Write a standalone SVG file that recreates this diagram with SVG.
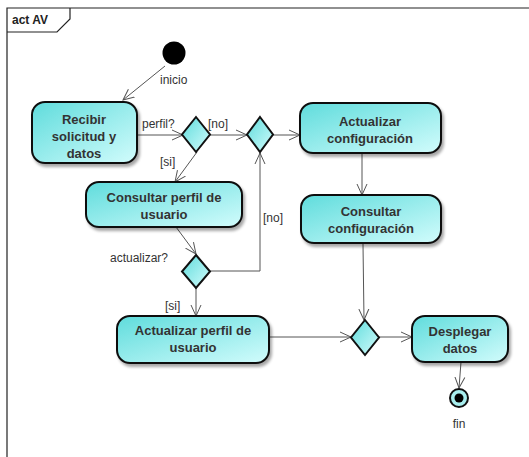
<svg xmlns="http://www.w3.org/2000/svg" width="529" height="457" viewBox="0 0 529 457">
  <defs>
    <linearGradient id="fillAct" x1="0" y1="0" x2="1" y2="1">
      <stop offset="0" stop-color="#5fdcdc"/>
      <stop offset="1" stop-color="#d2fcfc"/>
    </linearGradient>
    <filter id="shadow" x="-10%" y="-10%" width="130%" height="140%">
      <feGaussianBlur in="SourceAlpha" stdDeviation="1.5"/>
      <feOffset dx="2" dy="3" result="b"/>
      <feComponentTransfer><feFuncA type="linear" slope="0.35"/></feComponentTransfer>
      <feMerge><feMergeNode/><feMergeNode in="SourceGraphic"/></feMerge>
    </filter>
    <marker id="open" markerWidth="12" markerHeight="12" refX="11" refY="6" orient="auto" markerUnits="userSpaceOnUse">
      <path d="M0,1 L11,6 L0,11" fill="none" stroke="#555" stroke-width="1"/>
    </marker>
  </defs>
  <style>
    .frame { fill: none; stroke: #222; stroke-width: 1.2; }
    .act { fill: url(#fillAct); stroke: #111; stroke-width: 2; filter: url(#shadow); }
    .dec { fill: url(#fillAct); stroke: #111; stroke-width: 2; }
    .name { font-family: "Liberation Sans", Arial, sans-serif; font-size: 13px; font-weight: bold; fill: #333; text-anchor: middle; }
    .lbl { font-family: "Liberation Sans", Arial, sans-serif; font-size: 12px; fill: #333; }
    .edge { fill: none; stroke: #555; stroke-width: 1; marker-end: url(#open); }
    .title { font-family: "Liberation Sans", Arial, sans-serif; font-size: 12px; font-weight: bold; fill: #222; }
  </style>

  <rect x="0" y="0" width="529" height="457" fill="#fff"/>

  <!-- diagram frame with name tab -->
  <g id="frame">
    <path class="frame" d="M7,457 L7,8 L529,8"/>
    <path class="frame" d="M7,32 L57,32 L70,19 L70,8"/>
    <text class="title" x="12" y="24">act AV</text>
  </g>

  <!-- connectors -->
  <g id="connectors">
    <path class="edge" d="M165,66 L123,100"/>
    <path class="edge" d="M137,135 L183,135"/>
    <path class="edge" d="M210,135 L247,135"/>
    <path class="edge" d="M273,135 L300,135"/>
    <path class="edge" d="M197,152 L175,182"/>
    <path class="edge" d="M176,227 L196,254"/>
    <path class="edge" d="M210,271 L260,271 L260,153"/>
    <path class="edge" d="M196,288 L196,316"/>
    <path class="edge" d="M362,154 L362,195"/>
    <path class="edge" d="M363,244 L364,320"/>
    <path class="edge" d="M269,337 L351,337"/>
    <path class="edge" d="M379,337 L412,337"/>
    <path class="edge" d="M461,362 L459,388"/>
    <text class="lbl" x="142" y="128">perfil?</text>
    <text class="lbl" x="208" y="128">[no]</text>
    <text class="lbl" x="160" y="166">[si]</text>
    <text class="lbl" x="110" y="262">actualizar?</text>
    <text class="lbl" x="263" y="222">[no]</text>
    <text class="lbl" x="165" y="310">[si]</text>
  </g>

  <g id="inicio">
    <circle cx="174" cy="53" r="11.5" fill="#000"/>
    <text class="lbl" x="160" y="84">inicio</text>
  </g>

  <g id="recibir">
    <rect class="act" x="32" y="102" width="105" height="61" rx="13"/>
    <text class="name" x="84" y="124">Recibir</text>
    <text class="name" x="84" y="141">solicitud y</text>
    <text class="name" x="84" y="158">datos</text>
  </g>

  <g id="dec-perfil">
    <path class="dec" d="M196,117 L210,134.5 L196,152 L182,134.5 Z"/>
  </g>

  <g id="merge-config">
    <path class="dec" d="M260,117 L273,134.5 L260,152 L247,134.5 Z"/>
  </g>

  <g id="actualizar-config">
    <rect class="act" x="300" y="103" width="141" height="50" rx="13"/>
    <text class="name" x="370" y="126">Actualizar</text>
    <text class="name" x="370" y="143">configuración</text>
  </g>

  <g id="consultar-perfil">
    <rect class="act" x="86" y="182" width="156" height="45" rx="13"/>
    <text class="name" x="164" y="202">Consultar perfil de</text>
    <text class="name" x="164" y="219">usuario</text>
  </g>

  <g id="dec-actualizar">
    <path class="dec" d="M196,255 L210,271.5 L196,288 L182,271.5 Z"/>
  </g>

  <g id="consultar-config">
    <rect class="act" x="301" y="195" width="140" height="48" rx="13"/>
    <text class="name" x="371" y="216">Consultar</text>
    <text class="name" x="371" y="233">configuración</text>
  </g>

  <g id="actualizar-perfil">
    <rect class="act" x="117" y="316" width="152" height="47" rx="13"/>
    <text class="name" x="193" y="335">Actualizar perfil de</text>
    <text class="name" x="193" y="352">usuario</text>
  </g>

  <g id="merge-final">
    <path class="dec" d="M365,320 L379,337.5 L365,355 L351,337.5 Z"/>
  </g>

  <g id="desplegar">
    <rect class="act" x="412" y="316" width="96" height="46" rx="13"/>
    <text class="name" x="460" y="336">Desplegar</text>
    <text class="name" x="460" y="353">datos</text>
  </g>

  <g id="fin">
    <circle cx="459" cy="398" r="9" fill="#a8eeee" stroke="#111" stroke-width="2"/>
    <circle cx="459" cy="398" r="4.5" fill="#000"/>
    <text class="lbl" x="459" y="428" text-anchor="middle">fin</text>
  </g>
</svg>
